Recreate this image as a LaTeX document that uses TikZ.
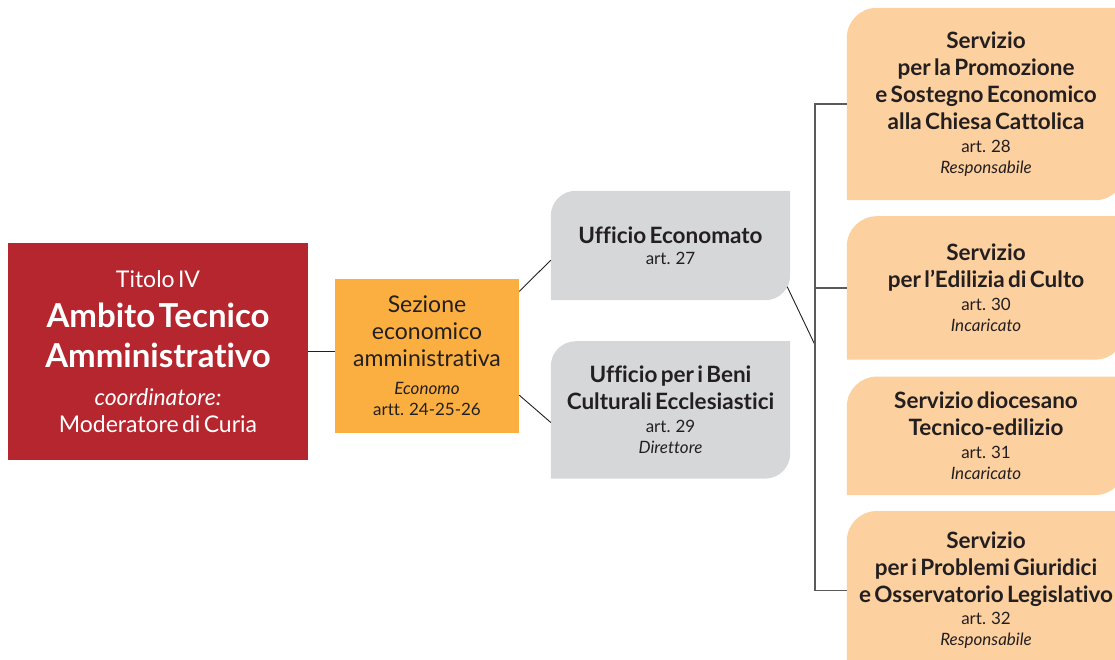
\documentclass[tikz,border=0pt]{standalone}
\usepackage{fontspec}
\setmainfont{Lato}[Ligatures=NoCommon]
\usetikzlibrary{positioning,calc,backgrounds}

\definecolor{titlered}{RGB}{181,38,46}
\definecolor{sectionorange}{RGB}{250,175,64}
\definecolor{officegray}{RGB}{214,215,217}
\definecolor{servicepeach}{RGB}{253,208,160}
\definecolor{inkgray}{RGB}{35,31,32}
\definecolor{busgray}{RGB}{90,90,92}

\newcommand{\sizeT}{\fontsize{33}{40}\selectfont}
\newcommand{\sizeR}{\fontsize{23}{27}\selectfont}
\newcommand{\sizeB}{\fontsize{22.5}{27}\selectfont}
\newcommand{\sizeS}{\fontsize{17}{21}\selectfont}

% one line of text each, every line ends its own paragraph
\newcommand{\tline}[1]{{\sizeT\bfseries #1\par}}
\newcommand{\rline}[1]{{\sizeR #1\par}}
\newcommand{\bline}[1]{{\sizeB\bfseries #1\par}}
\newcommand{\sline}[1]{{\sizeS #1\par}}
\newcommand{\iline}[1]{{\sizeS\itshape #1\par}}

% fill behind a node, rounded top left and bottom right
\newcommand{\roundtab}[3]{%
  \fill[#2] (#1.south west) -- ($(#1.north west)+(0,-#3)$)
    arc[start angle=180,end angle=90,radius=#3] -- (#1.north east)
    -- ($(#1.south east)+(0,#3)$)
    arc[start angle=0,end angle=-90,radius=#3] -- cycle;}

\begin{document}
\begin{tikzpicture}[x=1pt,y=1pt,
  every node/.style={inner sep=0pt, align=center, text=inkgray},
  titlebox/.style={fill=titlered, text=white, text width=290pt,
    minimum width=300pt, minimum height=217pt},
  sectionbox/.style={fill=sectionorange, text width=180pt,
    minimum width=184pt, minimum height=154pt},
  officebox/.style={text width=235pt, minimum width=239pt},
  servicebox/.style={text width=274pt, minimum width=278pt},
  link/.style={draw=inkgray, line width=0.9pt},
  busline/.style={draw=busgray, line width=1.4pt}]
\useasboundingbox (0,0) rectangle (1115,659);

% boxes
\node[titlebox] (titolo) at (158,307.5) {\rline{Titolo IV}
  \tline{Ambito Tecnico}\tline{Amministrativo}\vspace{11pt}
  \rline{\itshape coordinatore:}\rline{Moderatore di Curia}};
\node[sectionbox] (sezione) at (427,303) {\rline{Sezione}\rline{economico}
  \rline{amministrativa}\vspace{7pt}\iline{Economo}\sline{artt. 24-25-26}};
\node[officebox, minimum height=109pt] (economato) at (670.5,413.5)
  {\bline{Ufficio Economato}\sline{art. 27}};
\node[officebox, minimum height=137pt, below=41pt of economato] (beni)
  {\bline{Ufficio per i Beni}\bline{Culturali Ecclesiastici}\vspace{1.5pt}
   \sline{art. 29}\iline{Direttore}};
\node[servicebox, minimum height=192pt] (promozione) at (986,555)
  {\bline{Servizio}\bline{per la Promozione}\bline{e Sostegno Economico}
   \bline{alla Chiesa Cattolica}\vspace{1.5pt}\sline{art. 28}\iline{Responsabile}};
\node[servicebox, minimum height=143pt, below=16pt of promozione] (edilizia)
  {\bline{Servizio}\bline{per l’Edilizia di Culto}\vspace{1.5pt}
   \sline{art. 30}\iline{Incaricato}};
\node[servicebox, minimum height=118pt, below=17pt of edilizia] (tecnico)
  {\bline{Servizio diocesano}\bline{Tecnico-edilizio}\vspace{1.5pt}
   \sline{art. 31}\iline{Incaricato}};
\node[servicebox, minimum height=158pt, below=16pt of tecnico] (giuridici)
  {\bline{Servizio}\bline{per i Problemi Giuridici}\bline{e Osservatorio Legislativo}
   \vspace{1.5pt}\sline{art. 32}\iline{Responsabile}};

\begin{pgfonlayer}{background}
  \roundtab{economato}{officegray}{25pt}
  \roundtab{beni}{officegray}{25pt}
  \foreach \s in {promozione,edilizia,tecnico,giuridici}
    {\roundtab{\s}{servicepeach}{30pt}}
\end{pgfonlayer}

% connectors
\coordinate (bus) at (815,314);
\draw[link] (titolo.east) -- (titolo.east -| sezione.west);
\draw[link] (sezione.35.6) -- (economato.187);
\draw[link] (sezione.-23) -- (beni.186);
\draw[link] ($(economato.-19)+(-3,0)$) -- (bus);
\draw[busline] (promozione.west) -| (bus) |- (giuridici.west);
\draw[busline] (edilizia.west) -- (edilizia.west -| bus);
\draw[busline] ($(tecnico.west)+(0,-8)$) -- ($(tecnico.west)+(0,-8)$ -| bus);
\end{tikzpicture}
\end{document}
